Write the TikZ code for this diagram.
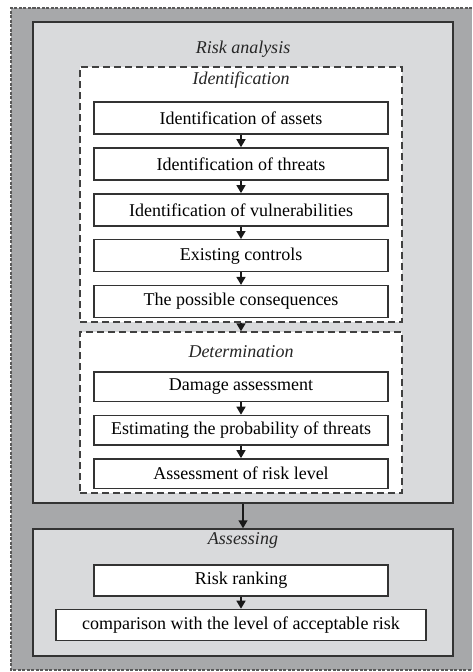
\documentclass[tikz,border=0pt]{standalone}
\usepackage{fontspec}
\setmainfont{Liberation Serif}
\usetikzlibrary{positioning,arrows.meta}
\definecolor{backgray}{HTML}{A7A8AA}
\definecolor{panelgray}{HTML}{D9DADC}

\begin{document}
\begin{tikzpicture}[x=1pt,y=-1pt,font=\fontsize{18}{20}\selectfont,>={Triangle[length=8pt,width=9pt]},
  stage/.style={rectangle,draw=black!80,line width=1.4pt,fill=white,text=black,minimum width=294pt,minimum height=32pt,inner sep=0pt},
  group/.style={rectangle,draw=black!75,dash pattern=on 7pt off 4pt,line width=1.4pt,fill=white,inner sep=0pt,minimum width=322pt},
  panel/.style={rectangle,draw=black!80,line width=1.5pt,fill=panelgray,inner sep=0pt,minimum width=420pt},
  ttl/.style={font=\fontsize{18}{20}\selectfont\itshape,text=black!85,inner sep=0pt},
  ar/.style={->,line width=1.5pt,black!90}]
\useasboundingbox (0,0) rectangle (472,672);
\fill[backgray] (11,8) rectangle (472,670);
\draw[black!65,line width=1.2pt,dash pattern=on 3pt off 1.5pt] (472,8) -- (11,8) -- (11,670) -- (472,670);
% risk analysis panel
\node[panel,minimum height=481pt](ra) at (243,262.5){};
\node[ttl](tra) at (243,49){Risk analysis};
\node[group,minimum height=255pt](id) at (241,194.5){};
\node[ttl](tid) at (241,80.5){Identification};
\node[stage](s1) at (241,118){Identification of assets};
\node[stage,below=12.5pt of s1](s2){Identification of threats};
\node[stage,below=12.5pt of s2](s3){Identification of vulnerabilities};
\node[stage,below=12.5pt of s3](s4){Existing controls};
\node[stage,below=12.5pt of s4](s5){The possible consequences};
\node[group,minimum height=161pt](dt) at (241,412.5){};
\node[ttl](tdt) at (241,352){Determination};
\node[stage,minimum height=29.5pt](d1) at (241,386.75){Damage assessment};
\node[stage,minimum height=29.5pt,below=12.5pt of d1](d2){Estimating the probability of threats};
\node[stage,minimum height=29.5pt,below=12.5pt of d2](d3){Assessment of risk level};
% assessing panel
\node[panel,minimum height=127pt](as) at (243,592.5){};
\node[ttl](tas) at (243,540){Assessing};
\node[stage,minimum height=31pt](rr) at (241,580.5){Risk ranking};
\node[stage,minimum height=31pt,minimum width=370pt,below=12pt of rr](cmp){comparison with the level of acceptable risk};
\draw[ar](s1)--(s2);\draw[ar](s2)--(s3);
\draw[ar](s3)--(s4);\draw[ar](s4)--(s5);
\draw[ar](id)--(dt);
\draw[ar](d1)--(d2);\draw[ar](d2)--(d3);
\draw[ar](ra)--(as);
\draw[ar](rr)--(cmp);
\end{tikzpicture}
\end{document}
